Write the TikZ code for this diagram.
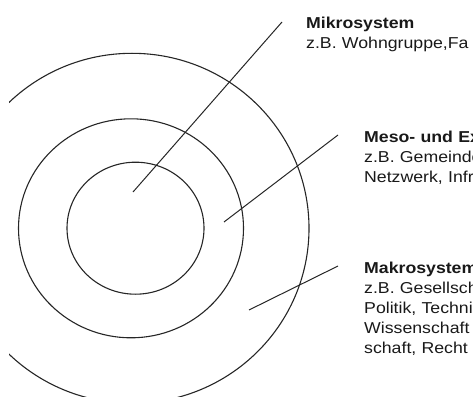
\documentclass[tikz,border=0pt]{standalone}
\usepackage{fontspec}
\newfontfamily\sysfont[FakeStretch=1.12]{Liberation Sans}
\usetikzlibrary{positioning}
\tikzset{ring/.style={line width=1.1pt,black!85},
  pointer/.style={line width=1pt,black!85},
  sysbox/.style={anchor=base west,inner sep=0pt,align=left,text width=200pt,
    font=\sysfont\fontsize{15.8}{20}\selectfont,text=black!90}}

\begin{document}
\begin{tikzpicture}[x=1pt,y=-1pt]
\useasboundingbox (0,0) rectangle (473,396);
\clip (0,0) rectangle (473,396);
% rings
\begin{scope}
\clip (9,0) rectangle (473,396);
\draw[ring] (132,228.3) ellipse [x radius=177,y radius=175];
\end{scope}
\draw[ring] (131,228.3) ellipse [x radius=112.5,y radius=109.5];
\draw[ring] (135.5,228.2) ellipse [x radius=68.5,y radius=66];
% labels
\node[sysbox] (mikro) at (306,29)
  {\textbf{Mikrosystem}\\z.B. Wohngruppe,Fa};
\node[sysbox] (meso) at (364,142)
  {\textbf{Meso- und Ex}\\z.B. Gemeinde\\Netzwerk, Infra};
\node[sysbox] (makro) at (364,273)
  {\textbf{Makrosystem}\\z.B. Gesellscha\\Politik, Techni\\Wissenschaft\\schaft, Recht};
% pointers
\coordinate (mikro-in) at (133,192);
\coordinate (mikro-out) at (282,22);
\coordinate (meso-in) at (224,222);
\coordinate (meso-out) at (338,135);
\coordinate (makro-in) at (249,310);
\coordinate (makro-out) at (338,266);
\draw[pointer] (mikro-in) -- (mikro-out);
\draw[pointer] (meso-in) -- (meso-out);
\draw[pointer] (makro-in) -- (makro-out);
\end{tikzpicture}
\end{document}
